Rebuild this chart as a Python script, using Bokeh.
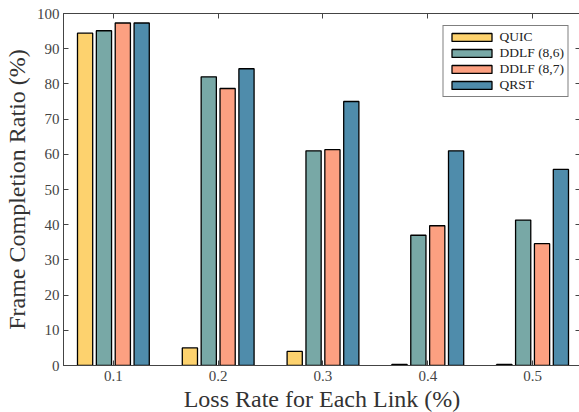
from bokeh.plotting import figure
from bokeh.models import ColumnDataSource, Range1d, LinearAxis, FixedTicker, Legend, LegendItem
from bokeh.embed import file_html
from bokeh.resources import INLINE

loss_rates = ["0.1", "0.2", "0.3", "0.4", "0.5"]
series_names = ["QUIC", "DDLF (8,6)", "DDLF (8,7)", "QRST"]
quic = [94.4, 5.0, 4.0, 0.3, 0.3]
ddlf86 = [95.1, 82.0, 61.0, 37.0, 41.3]
ddlf87 = [97.3, 78.7, 61.3, 39.7, 34.6]
qrst = [97.3, 84.3, 75.0, 61.0, 55.7]
colors = ["#FDD26E", "#78A8A6", "#FCA081", "#4F8CAB"]
y_ticks = [0, 10, 20, 30, 40, 50, 60, 70, 80, 90, 100]

FONT = "Liberation Serif"
group_x = list(range(1, len(loss_rates) + 1))
offsets = [-0.27, -0.09, 0.09, 0.27]
bar_w = 0.145

p = figure(frame_width=517, frame_height=352, output_backend="svg", toolbar_location=None,
           x_range=Range1d(0.524, 5.457), y_range=Range1d(0, 100))
p.min_border_left = 60
p.min_border_right = 1
p.min_border_top = 13
p.min_border_bottom = 47
p.outline_line_color = "#444444"
p.outline_line_width = 1
p.xgrid.visible = False
p.ygrid.visible = False
p.background_fill_color = "white"
p.border_fill_color = "white"

renderers = []
for vals, name, col, off in zip([quic, ddlf86, ddlf87, qrst], series_names, colors, offsets):
    src = ColumnDataSource(dict(x=[g + off for g in group_x], top=vals))
    r = p.vbar(x="x", top="top", width=bar_w, bottom=0, source=src,
               fill_color=col, line_color="black", line_width=1.3)
    renderers.append((name, r))

tick_map = {g: l for g, l in zip(group_x, loss_rates)}

def style_axis(ax):
    ax.major_tick_in = 5
    ax.major_tick_out = 0
    ax.minor_tick_in = 5
    ax.minor_tick_out = 0
    ax.axis_line_color = "#444444"
    ax.major_tick_line_color = "#444444"
    ax.minor_tick_line_color = "#444444"
    ax.major_label_text_font = FONT
    ax.major_label_text_font_size = "15px"
    ax.major_label_text_color = "#444444"
    ax.axis_label_text_font = FONT
    ax.axis_label_text_font_style = "normal"
    ax.axis_label_text_font_size = "24px"
    ax.axis_label_text_color = "#333333"

p.xaxis.ticker = FixedTicker(ticks=group_x)
p.xaxis.major_label_overrides = tick_map
p.xaxis.axis_label = "Loss Rate for Each Link (%)"
p.yaxis.ticker = FixedTicker(ticks=y_ticks)
p.yaxis.axis_label = "Frame Completion Ratio (%)"
style_axis(p.xaxis[0])
style_axis(p.yaxis[0])
p.xaxis.major_label_standoff = 5
p.xaxis.axis_label_standoff = 2
p.yaxis.major_label_standoff = 4
p.yaxis.axis_label_standoff = 4

# top and right axes: tick marks only (minor ticks carry no labels)
top_ax = LinearAxis(ticker=FixedTicker(ticks=[], minor_ticks=group_x))
style_axis(top_ax)
p.add_layout(top_ax, "above")
right_ax = LinearAxis(ticker=FixedTicker(ticks=[], minor_ticks=y_ticks))
style_axis(right_ax)
p.add_layout(right_ax, "right")

legend = Legend(items=[LegendItem(label=n, renderers=[r]) for n, r in renderers],
                location="top_right")
legend.label_text_font = FONT
legend.label_text_font_size = "13.5px"
legend.label_text_color = "#222222"
legend.glyph_width = 50
legend.glyph_height = 10
legend.label_height = 10
legend.spacing = 0
legend.padding = 3
legend.margin = 12
legend.label_standoff = 3
legend.border_line_color = "black"
legend.border_line_width = 1
legend.background_fill_alpha = 1
p.add_layout(legend)

open("out.html", "w").write(file_html(p, INLINE))
